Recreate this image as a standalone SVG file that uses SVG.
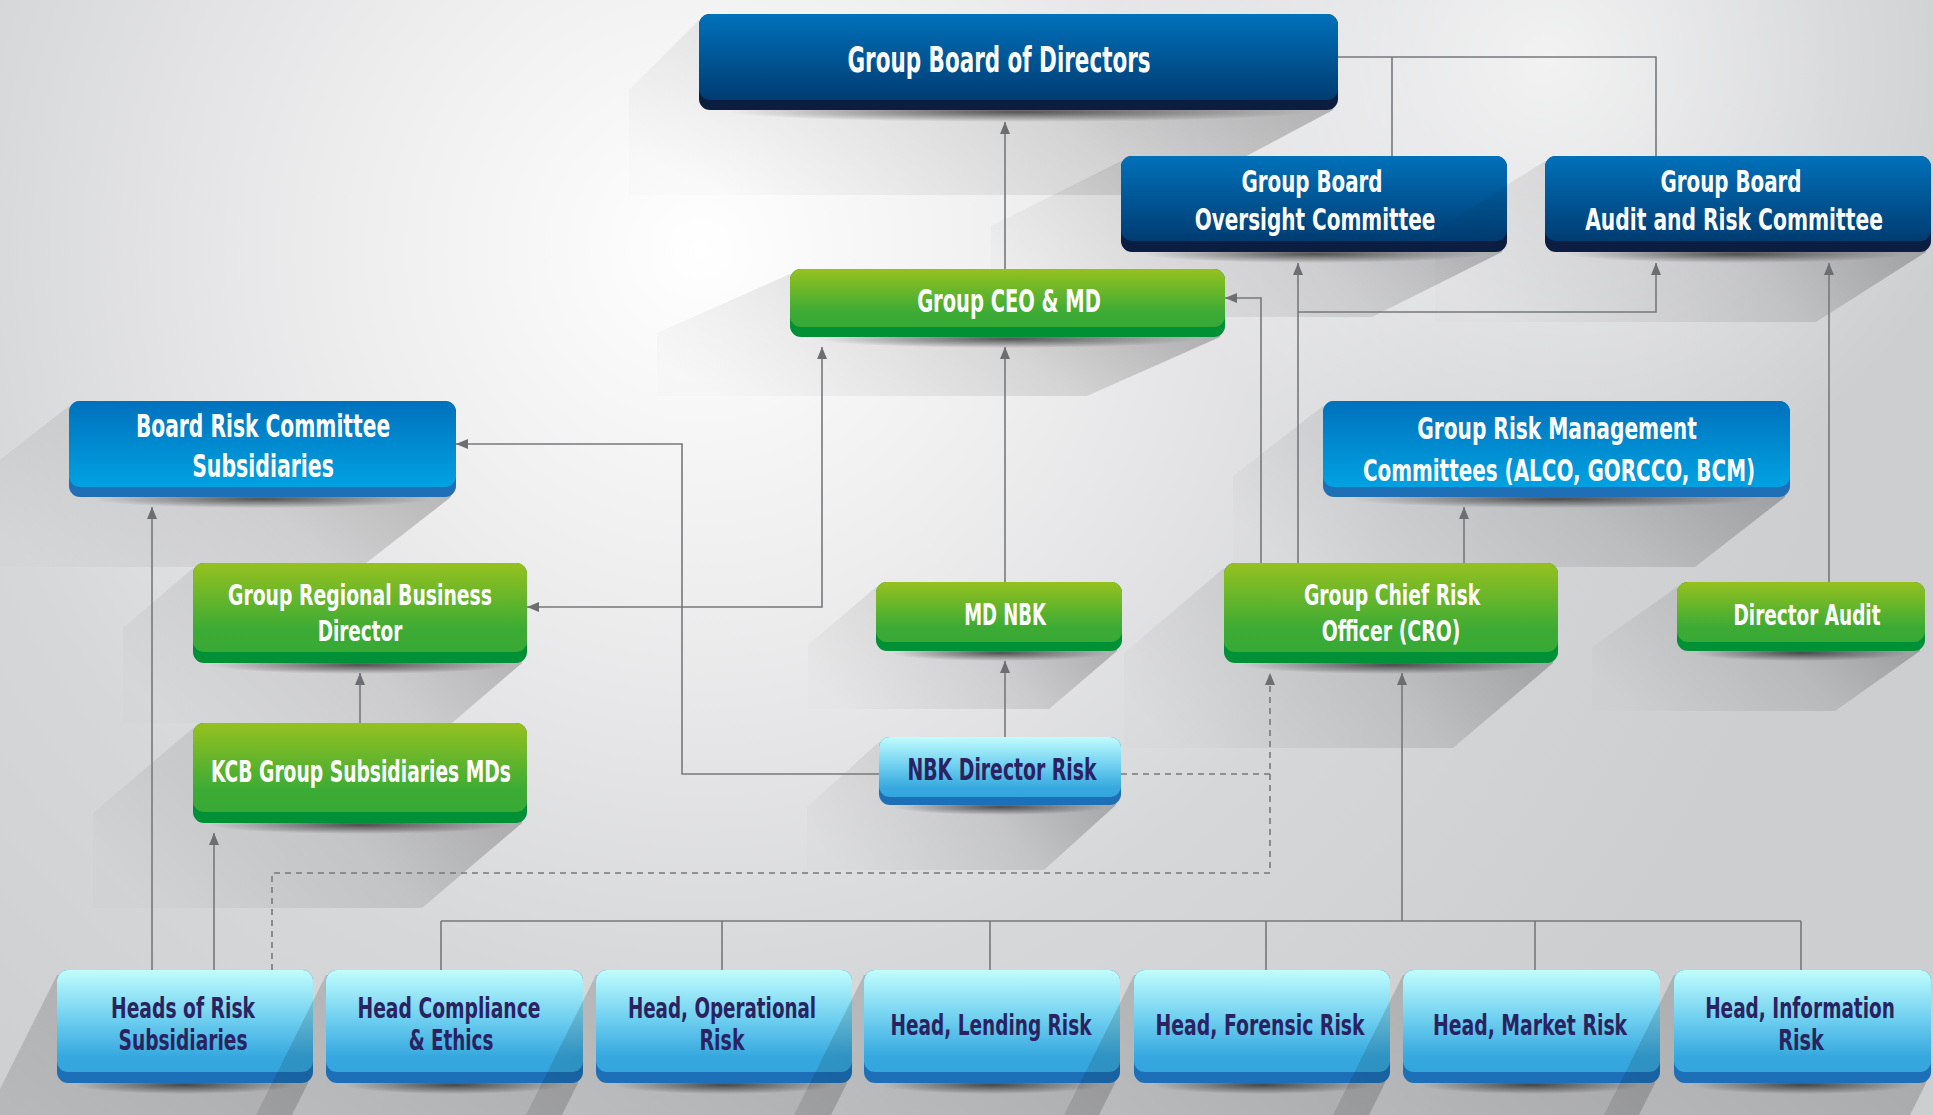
<svg xmlns="http://www.w3.org/2000/svg" width="1933" height="1115" viewBox="0 0 1933 1115">
<defs>
<style>
.t{font-family:"DejaVu Sans Condensed","Liberation Sans",sans-serif;font-weight:bold;fill:#ffffff;text-anchor:middle}
.td{font-family:"DejaVu Sans Condensed","Liberation Sans",sans-serif;font-weight:bold;fill:#2a2360;text-anchor:middle}
.ln{fill:none;stroke:#77787b;stroke-width:1.6}
.dash{fill:none;stroke:#77787b;stroke-width:1.6;stroke-dasharray:6 5}
.sh{fill:url(#sh)}
.sb{fill:url(#sb)}
.cs{fill:url(#cs)}
.bDark{fill:#0b1e42}.fDark{fill:url(#gDark)}
.bGreen{fill:#009036}.fGreen{fill:url(#gGreen)}
.bMed{fill:#1f6fb7}.fMed{fill:url(#gMed)}
.bCyan{fill:#1d70b8}.fCyan{fill:url(#gCyan)}
</style>
<radialGradient id="bg" cx="700" cy="250" r="1150" gradientUnits="userSpaceOnUse">
<stop offset="0" stop-color="#ffffff"/>
<stop offset="0.3" stop-color="#eeeeef"/>
<stop offset="0.65" stop-color="#d6d7d9"/>
<stop offset="1" stop-color="#cdced0"/>
</radialGradient>
<radialGradient id="bg2" cx="1550" cy="60" r="450" gradientUnits="userSpaceOnUse">
<stop offset="0" stop-color="#ffffff" stop-opacity="0.7"/>
<stop offset="1" stop-color="#ffffff" stop-opacity="0"/>
</radialGradient>
<linearGradient id="sh" x1="1" y1="0.3" x2="0" y2="0.7">
<stop offset="0" stop-color="#000" stop-opacity="0.26"/>
<stop offset="0.45" stop-color="#000" stop-opacity="0.1"/>
<stop offset="1" stop-color="#000" stop-opacity="0.01"/>
</linearGradient>
<linearGradient id="sb" x1="1" y1="0" x2="0" y2="1">
<stop offset="0" stop-color="#000" stop-opacity="0.2"/>
<stop offset="1" stop-color="#000" stop-opacity="0.08"/>
</linearGradient>
<radialGradient id="cs">
<stop offset="0" stop-color="#000" stop-opacity="0.6"/>
<stop offset="1" stop-color="#000" stop-opacity="0"/>
</radialGradient>
<linearGradient id="gDark" x1="0" y1="0" x2="0" y2="1">
<stop offset="0" stop-color="#0071ba"/>
<stop offset="1" stop-color="#003c72"/>
</linearGradient>
<linearGradient id="gGreen" x1="0" y1="0" x2="0" y2="1">
<stop offset="0" stop-color="#96c11f"/>
<stop offset="0.75" stop-color="#3cab35"/>
<stop offset="1" stop-color="#38a935"/>
</linearGradient>
<linearGradient id="gMed" x1="0" y1="0" x2="0" y2="1">
<stop offset="0" stop-color="#0071bc"/>
<stop offset="1" stop-color="#00a2e2"/>
</linearGradient>
<linearGradient id="gCyan" x1="0" y1="0" x2="0" y2="1">
<stop offset="0" stop-color="#c0fdfd"/>
<stop offset="0.5" stop-color="#6ccdef"/>
<stop offset="0.85" stop-color="#36a8df"/>
<stop offset="1" stop-color="#34a6de"/>
</linearGradient>
<marker id="ah" viewBox="0 0 12 10" refX="12" refY="5" markerWidth="12" markerHeight="10" markerUnits="userSpaceOnUse" orient="auto-start-reverse">
<path d="M0,0 L12,5 L0,10 z" fill="#6d6e71"/>
</marker>
</defs>

<rect x="0" y="0" width="1933" height="1115" fill="url(#bg)"/>
<rect x="0" y="0" width="1933" height="1115" fill="url(#bg2)"/>

<g id="node-board">
<polygon class="sh" points="699,20 1333,20 1333,110 1173,195 629,195 629,90"/>
<ellipse class="cs" cx="1018" cy="112" rx="290" ry="10"/>
<rect class="bDark" x="699" y="14" width="639" height="96" rx="11"/>
<rect class="fDark" x="699" y="14" width="639" height="86" rx="11"/>
<text class="t" transform="translate(999,72) scale(0.75,1)" font-size="35" textLength="404" lengthAdjust="spacingAndGlyphs">Group Board of Directors</text>
</g>

<g id="node-oversight">
<polygon class="sh" points="1121,161 1502,161 1502,252 1372,317 991,317 991,226"/>
<ellipse class="cs" cx="1314" cy="254" rx="170" ry="9"/>
<rect class="bDark" x="1121" y="156" width="386" height="96" rx="11"/>
<rect class="fDark" x="1121" y="156" width="386" height="85" rx="11"/>
<text class="t" transform="translate(1312,192) scale(0.75,1)" font-size="30" textLength="188" lengthAdjust="spacingAndGlyphs">Group Board</text>
<text class="t" transform="translate(1315,230) scale(0.75,1)" font-size="30" textLength="321" lengthAdjust="spacingAndGlyphs">Oversight Committee</text>
</g>

<g id="node-audit-committee">
<polygon class="sh" points="1545,161 1926,161 1926,252 1816,322 1435,322 1435,231"/>
<ellipse class="cs" cx="1737" cy="254" rx="170" ry="9"/>
<rect class="bDark" x="1545" y="156" width="386" height="96" rx="11"/>
<rect class="fDark" x="1545" y="156" width="386" height="85" rx="11"/>
<text class="t" transform="translate(1731,192) scale(0.75,1)" font-size="30" textLength="188" lengthAdjust="spacingAndGlyphs">Group Board</text>
<text class="t" transform="translate(1734,230) scale(0.75,1)" font-size="30" textLength="397" lengthAdjust="spacingAndGlyphs">Audit and Risk Committee</text>
</g>

<g id="node-ceo">
<polygon class="sh" points="790,274 1220,274 1220,337 1087,396 657,396 657,333"/>
<ellipse class="cs" cx="1007" cy="339" rx="190" ry="9"/>
<rect class="bGreen" x="790" y="269" width="435" height="68" rx="11"/>
<rect class="fGreen" x="790" y="269" width="435" height="58" rx="11"/>
<text class="t" transform="translate(1009,312) scale(0.75,1)" font-size="32" textLength="245" lengthAdjust="spacingAndGlyphs">Group CEO &amp; MD</text>
</g>

<g id="node-brc">
<polygon class="sh" points="69,406 451,406 451,497 361,567 -21,567 -21,476"/>
<ellipse class="cs" cx="262" cy="499" rx="170" ry="9"/>
<rect class="bMed" x="69" y="401" width="387" height="96" rx="11"/>
<rect class="fMed" x="69" y="401" width="387" height="86" rx="11"/>
<text class="t" transform="translate(263,437) scale(0.75,1)" font-size="32" textLength="339" lengthAdjust="spacingAndGlyphs">Board Risk Committee</text>
<text class="t" transform="translate(263,477) scale(0.75,1)" font-size="32" textLength="189" lengthAdjust="spacingAndGlyphs">Subsidiaries</text>
</g>

<g id="node-grm">
<polygon class="sh" points="1323,406 1785,406 1785,497 1695,567 1233,567 1233,476"/>
<ellipse class="cs" cx="1556" cy="499" rx="205" ry="9"/>
<rect class="bMed" x="1323" y="401" width="467" height="96" rx="11"/>
<rect class="fMed" x="1323" y="401" width="467" height="86" rx="11"/>
<text class="t" transform="translate(1557,439) scale(0.75,1)" font-size="31" textLength="373" lengthAdjust="spacingAndGlyphs">Group Risk Management</text>
<text class="t" transform="translate(1559,481) scale(0.75,1)" font-size="31" textLength="523" lengthAdjust="spacingAndGlyphs">Committees (ALCO, GORCCO, BCM)</text>
</g>

<g id="node-grbd">
<polygon class="sh" points="193,568 522,568 522,663 452,723 123,723 123,628"/>
<ellipse class="cs" cx="360" cy="665" rx="150" ry="9"/>
<rect class="bGreen" x="193" y="563" width="334" height="100" rx="11"/>
<rect class="fGreen" x="193" y="563" width="334" height="89" rx="11"/>
<text class="t" transform="translate(360,605) scale(0.75,1)" font-size="29" textLength="352" lengthAdjust="spacingAndGlyphs">Group Regional Business</text>
<text class="t" transform="translate(360,641) scale(0.75,1)" font-size="29" textLength="113" lengthAdjust="spacingAndGlyphs">Director</text>
</g>

<g id="node-mdnbk">
<polygon class="sh" points="876,587 1117,587 1117,651 1049,709 808,709 808,645"/>
<ellipse class="cs" cx="1000" cy="653" rx="108" ry="8"/>
<rect class="bGreen" x="876" y="582" width="246" height="69" rx="11"/>
<rect class="fGreen" x="876" y="582" width="246" height="60" rx="11"/>
<text class="t" transform="translate(1005,625) scale(0.75,1)" font-size="30" textLength="109" lengthAdjust="spacingAndGlyphs">MD NBK</text>
</g>

<g id="node-cro">
<polygon class="sh" points="1224,568 1553,568 1553,663 1453,748 1124,748 1124,653"/>
<ellipse class="cs" cx="1391" cy="665" rx="150" ry="9"/>
<rect class="bGreen" x="1224" y="563" width="334" height="100" rx="11"/>
<rect class="fGreen" x="1224" y="563" width="334" height="89" rx="11"/>
<text class="t" transform="translate(1392,605) scale(0.75,1)" font-size="29" textLength="235" lengthAdjust="spacingAndGlyphs">Group Chief Risk</text>
<text class="t" transform="translate(1391,641) scale(0.75,1)" font-size="29" textLength="185" lengthAdjust="spacingAndGlyphs">Officer (CRO)</text>
</g>

<g id="node-director-audit">
<polygon class="sh" points="1677,587 1920,587 1920,651 1835,711 1592,711 1592,647"/>
<ellipse class="cs" cx="1801" cy="653" rx="108" ry="8"/>
<rect class="bGreen" x="1677" y="582" width="248" height="69" rx="11"/>
<rect class="fGreen" x="1677" y="582" width="248" height="60" rx="11"/>
<text class="t" transform="translate(1807,625) scale(0.75,1)" font-size="29" textLength="196" lengthAdjust="spacingAndGlyphs">Director Audit</text>
</g>

<g id="node-kcb">
<polygon class="sh" points="193,728 522,728 522,823 422,908 93,908 93,813"/>
<ellipse class="cs" cx="360" cy="825" rx="150" ry="9"/>
<rect class="bGreen" x="193" y="723" width="334" height="100" rx="11"/>
<rect class="fGreen" x="193" y="723" width="334" height="89" rx="11"/>
<text class="t" transform="translate(361,782) scale(0.75,1)" font-size="30" textLength="400" lengthAdjust="spacingAndGlyphs">KCB Group Subsidiaries MDs</text>
</g>

<g id="node-nbk-director-risk">
<polygon class="sh" points="879,742 1116,742 1116,805 1044,870 807,870 807,807"/>
<ellipse class="cs" cx="1000" cy="807" rx="106" ry="8"/>
<rect class="bCyan" x="879" y="737" width="242" height="68" rx="11"/>
<rect class="fCyan" x="879" y="737" width="242" height="60" rx="11"/>
<text class="td" transform="translate(1002,780) scale(0.75,1)" font-size="30" textLength="252" lengthAdjust="spacingAndGlyphs">NBK Director Risk</text>
</g>

<g id="node-heads-risk-subs">
<polygon class="sb" points="57,975 308,975 308,1083 238,1223 -13,1223 -13,1115"/>
<ellipse class="cs" cx="185" cy="1085" rx="110" ry="9"/>
<rect class="bCyan" x="57" y="970" width="256" height="113" rx="11"/>
<rect class="fCyan" x="57" y="970" width="256" height="102" rx="11"/>
<text class="td" transform="translate(183,1018) scale(0.75,1)" font-size="28" textLength="192" lengthAdjust="spacingAndGlyphs">Heads of Risk</text>
<text class="td" transform="translate(183,1050) scale(0.75,1)" font-size="28" textLength="172" lengthAdjust="spacingAndGlyphs">Subsidiaries</text>
</g>

<g id="node-head-compliance">
<polygon class="sb" points="326,975 578,975 578,1083 508,1223 256,1223 256,1115"/>
<ellipse class="cs" cx="454" cy="1085" rx="110" ry="9"/>
<rect class="bCyan" x="326" y="970" width="257" height="113" rx="11"/>
<rect class="fCyan" x="326" y="970" width="257" height="102" rx="11"/>
<text class="td" transform="translate(449,1018) scale(0.75,1)" font-size="28" textLength="244" lengthAdjust="spacingAndGlyphs">Head Compliance</text>
<text class="td" transform="translate(451,1050) scale(0.75,1)" font-size="28" textLength="113" lengthAdjust="spacingAndGlyphs">&amp; Ethics</text>
</g>

<g id="node-head-operational">
<polygon class="sb" points="596,975 847,975 847,1083 777,1223 526,1223 526,1115"/>
<ellipse class="cs" cx="724" cy="1085" rx="110" ry="9"/>
<rect class="bCyan" x="596" y="970" width="256" height="113" rx="11"/>
<rect class="fCyan" x="596" y="970" width="256" height="102" rx="11"/>
<text class="td" transform="translate(722,1018) scale(0.75,1)" font-size="28" textLength="251" lengthAdjust="spacingAndGlyphs">Head, Operational</text>
<text class="td" transform="translate(722,1050) scale(0.75,1)" font-size="28" textLength="60" lengthAdjust="spacingAndGlyphs">Risk</text>
</g>

<g id="node-head-lending">
<polygon class="sb" points="864,975 1115,975 1115,1083 1045,1223 794,1223 794,1115"/>
<ellipse class="cs" cx="992" cy="1085" rx="110" ry="9"/>
<rect class="bCyan" x="864" y="970" width="256" height="113" rx="11"/>
<rect class="fCyan" x="864" y="970" width="256" height="102" rx="11"/>
<text class="td" transform="translate(991,1035) scale(0.75,1)" font-size="28" textLength="268" lengthAdjust="spacingAndGlyphs">Head, Lending Risk</text>
</g>

<g id="node-head-forensic">
<polygon class="sb" points="1134,975 1385,975 1385,1083 1315,1223 1064,1223 1064,1115"/>
<ellipse class="cs" cx="1262" cy="1085" rx="110" ry="9"/>
<rect class="bCyan" x="1134" y="970" width="256" height="113" rx="11"/>
<rect class="fCyan" x="1134" y="970" width="256" height="102" rx="11"/>
<text class="td" transform="translate(1260,1035) scale(0.75,1)" font-size="28" textLength="279" lengthAdjust="spacingAndGlyphs">Head, Forensic Risk</text>
</g>

<g id="node-head-market">
<polygon class="sb" points="1403,975 1655,975 1655,1083 1585,1223 1333,1223 1333,1115"/>
<ellipse class="cs" cx="1531" cy="1085" rx="110" ry="9"/>
<rect class="bCyan" x="1403" y="970" width="257" height="113" rx="11"/>
<rect class="fCyan" x="1403" y="970" width="257" height="102" rx="11"/>
<text class="td" transform="translate(1530,1035) scale(0.75,1)" font-size="28" textLength="259" lengthAdjust="spacingAndGlyphs">Head, Market Risk</text>
</g>

<g id="node-head-information">
<polygon class="sb" points="1674,975 1926,975 1926,1083 1856,1223 1604,1223 1604,1115"/>
<ellipse class="cs" cx="1802" cy="1085" rx="110" ry="9"/>
<rect class="bCyan" x="1674" y="970" width="257" height="113" rx="11"/>
<rect class="fCyan" x="1674" y="970" width="257" height="102" rx="11"/>
<text class="td" transform="translate(1800,1018) scale(0.75,1)" font-size="28" textLength="253" lengthAdjust="spacingAndGlyphs">Head, Information</text>
<text class="td" transform="translate(1801,1050) scale(0.75,1)" font-size="28" textLength="61" lengthAdjust="spacingAndGlyphs">Risk</text>
</g>

<g id="connectors">
<path class="ln" d="M1338,57 H1656 V156"/>
<path class="ln" d="M1392,57 V156"/>
<path class="ln" d="M1005,269 V122" marker-end="url(#ah)"/>
<path class="ln" d="M1005,582 V347" marker-end="url(#ah)"/>
<path class="ln" d="M1005,737 V661" marker-end="url(#ah)"/>
<path class="ln" d="M527,607 H822 V347" marker-start="url(#ah)" marker-end="url(#ah)"/>
<path class="ln" d="M1261,563 V298 H1225" marker-end="url(#ah)"/>
<path class="ln" d="M1298,563 V263" marker-end="url(#ah)"/>
<path class="ln" d="M1298,312 H1656 V263" marker-end="url(#ah)"/>
<path class="ln" d="M1464,563 V507" marker-end="url(#ah)"/>
<path class="ln" d="M1829,582 V263" marker-end="url(#ah)"/>
<path class="ln" d="M879,774 H682 V444 H456" marker-end="url(#ah)"/>
<path class="dash" d="M1121,774 H1270"/>
<path class="dash" d="M272,970 V873 H1270 V673" marker-end="url(#ah)"/>
<path class="ln" d="M152,970 V507" marker-end="url(#ah)"/>
<path class="ln" d="M214,970 V833" marker-end="url(#ah)"/>
<path class="ln" d="M360,723 V673" marker-end="url(#ah)"/>
<path class="ln" d="M441,921 H1801"/>
<path class="ln" d="M441,921 V970 M722,921 V970 M990,921 V970 M1266,921 V970 M1535,921 V970 M1801,921 V970"/>
<path class="ln" d="M1402,921 V673" marker-end="url(#ah)"/>
</g>
</svg>
